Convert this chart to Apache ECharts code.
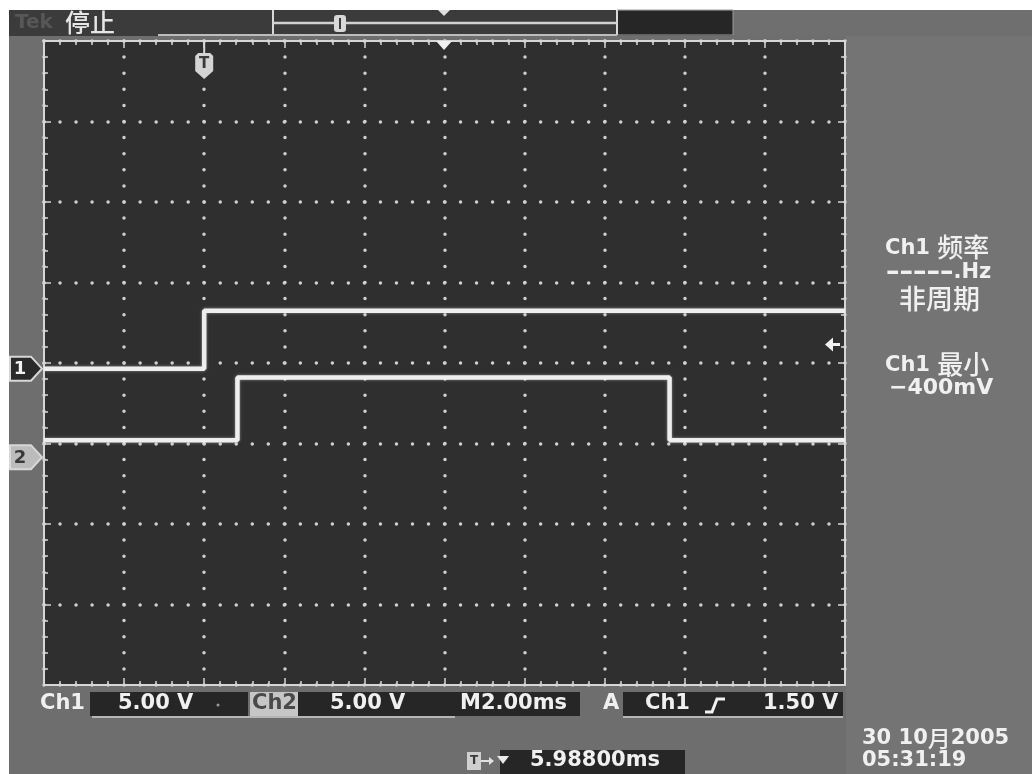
<!DOCTYPE html>
<html>
<head>
<meta charset="utf-8">
<script src="https://cdn.jsdelivr.net/npm/echarts@6/dist/echarts.min.js"></script>
<style>
  html, body { margin: 0; padding: 0; background: #ffffff; }
  #scope { width: 1032px; height: 774px; }
</style>
</head>
<body>
<div id="scope"></div>
<script>
// Horizontal: time in ms (2.00 ms/div, trigger at 0). Vertical: screen divisions.
const timeMin = -4;
const timeMax = 16;
const timeStep = 2;
const divMin = -4;
const divMax = 4;

// Channel 1 trace (volts)
const ch1Time  = [-4, 0, 0, 16];
const ch1Volts = [0.0, 0.0, 3.6, 3.6];
// Channel 2 trace (volts)
const ch2Time  = [-4, 0.83, 0.83, 11.62, 11.62, 16];
const ch2Volts = [1.05, 1.05, 4.95, 4.95, 1.05, 1.05];

const voltsPerDiv = 5.0;     // both channels
const ch1Offset = -0.07;     // ground marker position, divisions
const ch2Offset = -1.17;
const trigLevel = 1.5;       // volts, Ch1 rising edge
const horizPosMs = 5.988;    // horizontal position readout

// Readout texts
const readCh1 = ['Ch1', '5.00 V'];
const readCh2 = ['Ch2', '5.00 V'];
const readTime = 'M2.00ms';
const readTrig = ['A', 'Ch1', '1.50 V'];
const readPos = '5.98800ms';
const measFreq = ['Ch1 ', '频率', '–––––', '.Hz', '非周期'];
const measMin = ['Ch1 ', '最小', '−400mV'];
const stamp = ['30 10', '月', '2005', '05:31:19'];
const runState = '停止';

const toDiv = (offset, volts) => volts.map(v => offset + v / voltsPerDiv);
const pairs = (xs, ys) => xs.map((x, i) => [x, ys[i]]);

const chart = echarts.init(document.getElementById('scope'), null, { renderer: 'canvas' });

const frameColor = '#d6d6d6';
const dotColor = '#d0d0d0';
const traceColor = '#eeeeee';
const ink = '#f0f0f0';
const LATIN = '"DejaVu Sans", sans-serif';
const CJK = '"Noto Sans CJK SC", sans-serif';

function xAxisDef(position, dots) {
  return {
    type: 'value', position, min: timeMin, max: timeMax, interval: timeStep,
    axisLine: { show: true, onZero: false, lineStyle: { color: frameColor, width: 2 } },
    axisTick: { show: true, inside: true, length: 7, lineStyle: { color: frameColor, width: 1.5 } },
    minorTick: { show: true, splitNumber: 5, length: 4, lineStyle: { color: frameColor, width: 1.5 } },
    axisLabel: { show: false },
    splitLine: { show: dots, lineStyle: { color: dotColor, width: 3.5, type: [0.01, 16.09], cap: 'round' } }
  };
}
function yAxisDef(position, dots) {
  return {
    type: 'value', position, min: divMin, max: divMax, interval: 1,
    axisLine: { show: true, onZero: false, lineStyle: { color: frameColor, width: 2 } },
    axisTick: { show: true, inside: true, length: 7, lineStyle: { color: frameColor, width: 1.5 } },
    minorTick: { show: true, splitNumber: 5, length: 4, lineStyle: { color: frameColor, width: 1.5 } },
    axisLabel: { show: false },
    splitLine: { show: dots, lineStyle: { color: dotColor, width: 3.5, type: [0.01, 16.01], cap: 'round' } }
  };
}

const traceStyle = {
  color: traceColor, width: 4.5,
  shadowColor: 'rgba(255,255,255,0.45)', shadowBlur: 3
};

chart.setOption({
  animation: false,
  backgroundColor: '#6e6e6e',
  grid: { left: 44, top: 41, width: 801, height: 644, show: false },
  xAxis: [xAxisDef('bottom', true), xAxisDef('top', false)],
  yAxis: [yAxisDef('left', true), yAxisDef('right', false)],
  series: [
    { name: 'Ch1', type: 'line', xAxisIndex: 0, yAxisIndex: 0, showSymbol: false,
      lineStyle: traceStyle, data: pairs(ch1Time, toDiv(ch1Offset, ch1Volts)), z: 5 },
    { name: 'Ch2', type: 'line', xAxisIndex: 0, yAxisIndex: 0, showSymbol: false,
      lineStyle: traceStyle, data: pairs(ch2Time, toDiv(ch2Offset, ch2Volts)), z: 5 }
  ]
});

const px = (t, d) => chart.convertToPixel({ xAxisIndex: 0, yAxisIndex: 0 }, [t, d]);
const ch1Y = px(0, ch1Offset)[1];
const ch2Y = px(0, ch2Offset)[1];
const trigY = px(0, ch1Offset + trigLevel / voltsPerDiv)[1];
const trigX = px(0, 0)[0];
const posX = px(horizPosMs, 0)[0];
const gl = 44, gt = 41, gr = 845, gb = 685;

// mixed-script text styles
const rich = {
  L: { font: 'bold 21px ' + LATIN, fill: ink, color: ink, verticalAlign: 'middle' },
  M: { font: 'bold 22px ' + LATIN, fill: ink, color: ink, verticalAlign: 'middle' },
  D: { font: 'bold 27px ' + LATIN, fill: ink, color: ink, verticalAlign: 'middle' },
  C: { font: '500 26px ' + CJK, fill: ink, color: ink, verticalAlign: 'middle', padding: [0, 0, 3, 0] },
  S: { font: '500 23px ' + CJK, fill: ink, color: ink, verticalAlign: 'middle', padding: [0, 0, 2, 0] }
};

function txt(x, y, text, font, fill, align) {
  return { type: 'text', z: 100, style: { x, y, text, font, fill: fill || ink,
    textAlign: align || 'left', textVerticalAlign: 'middle' } };
}
function rtxt(x, y, text) {
  return { type: 'text', z: 100, style: { x, y, text, rich, fill: ink,
    textAlign: 'left', textVerticalAlign: 'middle' } };
}
function box(x, y, w, h, fill, z) {
  return { type: 'rect', z: z === undefined ? -10 : z, shape: { x, y, width: w, height: h }, style: { fill } };
}
function seg(x1, y1, x2, y2, color, w, z) {
  return { type: 'line', z: z || 50, shape: { x1, y1, x2, y2 }, style: { stroke: color, lineWidth: w } };
}
function chMarker(y, label, fill, labelInk) {
  return [
    { type: 'polygon', z: 60, shape: { points: [[10, y - 12], [31, y - 12], [42, y], [31, y + 12], [10, y + 12]] },
      style: { fill, stroke: '#d8d8d8', lineWidth: 2 } },
    txt(20, y + 1, label, 'bold 18px ' + LATIN, labelInk, 'center')
  ];
}

const elems = [
  // page edges and panels
  box(0, 0, 1032, 10, '#ffffff', -20),
  box(0, 0, 9, 774, '#ffffff', -20),
  box(846, 36, 186, 738, '#747474', -15),
  box(9, 10, 724, 26, '#3b3b3b', -12),
  box(733, 10, 299, 26, '#6f6f6f', -12),
  box(gl, gt, gr - gl, gb - gt, '#2f2f2f', -11),

  // record bar on top
  box(617, 11, 116, 24, '#262626', -8),
  { type: 'rect', z: 40, shape: { x: 617, y: 10, width: 116, height: 25 }, style: { fill: 'none', stroke: '#9a9a9a', lineWidth: 1 } },
  seg(273, 10, 273, 35, '#d8d8d8', 2),
  seg(617, 10, 617, 35, '#d8d8d8', 2),
  seg(273, 23, 617, 23, '#d0d0d0', 2.5),
  seg(158, 35, 617, 35, '#bdbdbd', 2),
  { type: 'rect', z: 55, shape: { x: 334, y: 15, width: 12, height: 17, r: 3 }, style: { fill: '#d8d8d8' } },
  seg(340, 18, 340, 29, '#3a3a3a', 2, 56),
  { type: 'polygon', z: 55, shape: { points: [[posX - 6, 10], [posX + 6, 10], [posX, 16]] }, style: { fill: '#e0e0e0' } },

  // horizontal position marker on the graticule
  { type: 'polygon', z: 60, shape: { points: [[posX - 8, gt], [posX + 8, gt], [posX, gt + 9]] }, style: { fill: '#f0f0f0' } },

  // trigger point marker
  seg(trigX, gt, trigX, gt + 12, '#d8d8d8', 2, 60),
  { type: 'polygon', z: 60, shape: { points: [[trigX - 9, 56], [trigX - 6, 53], [trigX + 6, 53], [trigX + 9, 56], [trigX + 9, 71], [trigX, 79], [trigX - 9, 71]] },
    style: { fill: '#d4d4d4' } },
  txt(trigX, 64, 'T', 'bold 15px ' + LATIN, '#3a3a3a', 'center'),

  // trigger level arrow
  seg(830, trigY, 840, trigY, '#f0f0f0', 3, 60),
  { type: 'polygon', z: 60, shape: { points: [[825, trigY], [833, trigY - 7], [833, trigY + 7]] }, style: { fill: '#f0f0f0' } },

  ...chMarker(ch1Y, '1', '#2a2a2a', '#f2f2f2'),
  ...chMarker(ch2Y, '2', '#bcbcbc', '#3a3a3a'),

  // run state
  txt(15, 23, 'Tek', 'bold 20px ' + LATIN, '#575757'),
  txt(65, 22, runState, '500 25px ' + CJK, '#e6e6e6'),

  // right measurement panel
  rtxt(885, 249, '{L|' + measFreq[0] + '}{C|' + measFreq[1] + '}'),
  rtxt(886, 273, '{D|' + measFreq[2] + '}{L|' + measFreq[3] + '}'),
  txt(899, 299, measFreq[4], '500 27px ' + CJK),
  rtxt(885, 366, '{L|' + measMin[0] + '}{C|' + measMin[1] + '}'),
  txt(889, 388, measMin[2], 'bold 22px ' + LATIN),

  // bottom readout row
  box(90, 692, 158, 24, '#262626', -8),
  box(250, 692, 48, 24, '#c6c6c6', -8),
  box(298, 692, 157, 24, '#262626', -8),
  box(455, 692, 125, 24, '#262626', -8),
  box(623, 692, 220, 24, '#262626', -8),
  seg(92, 717, 455, 717, '#cfcfcf', 1.5),
  seg(623, 717, 843, 717, '#cfcfcf', 1.5),
  txt(40, 704, readCh1[0], 'bold 21px ' + LATIN),
  txt(118, 704, readCh1[1], 'bold 21px ' + LATIN),
  { type: 'circle', z: 60, shape: { cx: 218, cy: 705, r: 1.5 }, style: { fill: '#9a9a9a' } },
  txt(252, 704, readCh2[0], 'bold 21px ' + LATIN, '#4a4a4a'),
  txt(330, 704, readCh2[1], 'bold 21px ' + LATIN),
  txt(460, 704, readTime, 'bold 21px ' + LATIN),
  txt(603, 704, readTrig[0], 'bold 21px ' + LATIN),
  txt(645, 704, readTrig[1], 'bold 21px ' + LATIN),
  { type: 'polyline', z: 60, shape: { points: [[705, 712], [712, 712], [717, 699], [725, 699]] },
    style: { stroke: '#f0f0f0', lineWidth: 3, fill: 'none' } },
  txt(763, 704, readTrig[2], 'bold 21px ' + LATIN),

  // position readout
  box(500, 750, 185, 24, '#262626', -8),
  box(467, 752, 14, 18, '#cfcfcf', 55),
  txt(474, 761, 'T', 'bold 12px ' + LATIN, '#3a3a3a', 'center'),
  seg(481, 761, 492, 761, '#e0e0e0', 2),
  { type: 'polygon', z: 60, shape: { points: [[489, 757], [494, 761], [489, 765]] }, style: { fill: '#e0e0e0' } },
  { type: 'polygon', z: 60, shape: { points: [[497, 756], [509, 756], [503, 764]] }, style: { fill: '#e8e8e8' } },
  txt(530, 761, readPos, 'bold 21px ' + LATIN),

  // date and time
  rtxt(862, 739, '{L|' + stamp[0] + '}{S|' + stamp[1] + '}{L|' + stamp[2] + '}'),
  txt(862, 761, stamp[3], 'bold 21px ' + LATIN)
];

chart.setOption({ graphic: { elements: elems } });
</script>
</body>
</html>
